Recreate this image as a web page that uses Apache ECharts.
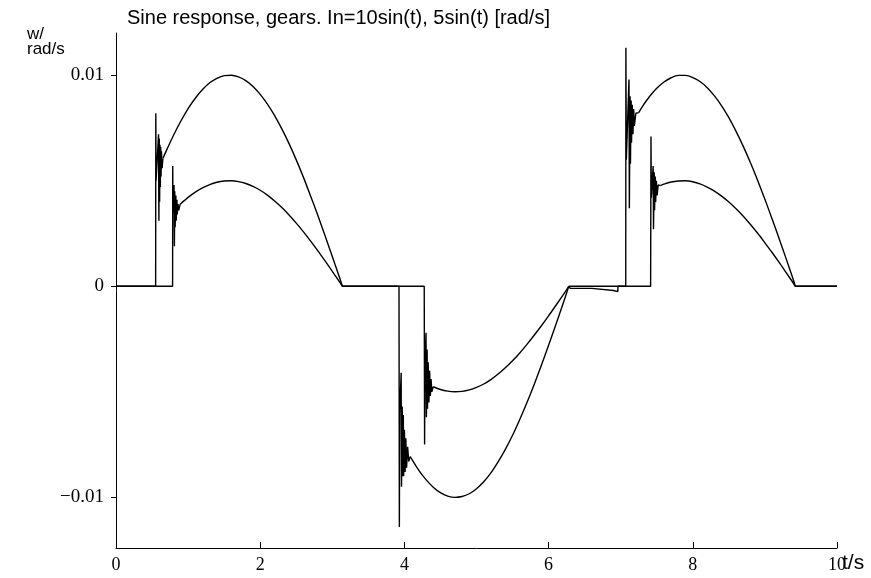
<!DOCTYPE html>
<html>
<head>
<meta charset="utf-8">
<script src="https://cdn.jsdelivr.net/npm/echarts@6/dist/echarts.min.js"></script>
<style>html,body{margin:0;padding:0;background:#fff}#c{width:871px;height:578px}</style>
</head>
<body>
<div id="c"></div>
<script>
// ---- Data (t in s, w in rad/s) ----
const titleText = 'Sine response, gears. In=10sin(t), 5sin(t) [rad/s]';
const yUnitText = 'w/\nrad/s';
const xUnitText = 't/s';
const xTickValues = [0, 2, 4, 6, 8, 10];
const yTickValues = [0.01, 0, -0.01];
const yTickLabels = ['0.01', '0', '\u22120.01'];

// Series A (In = 10 sin(t))
const aRest1 = [[0, 0], [0.55, 0]];
const aOsc1 = [[0.552, 0.0082], [0.556, 0.0050], [0.59, 0.0072], [0.595, 0.0031], [0.60, 0.0070], [0.605, 0.0040], [0.61, 0.0067], [0.615, 0.0047], [0.62, 0.0066], [0.625, 0.0052], [0.63, 0.0064], [0.64, 0.0056], [0.65, 0.00605]];
const aArc1 = [[0.65, 0.00605], [0.7, 0.00644], [0.8, 0.00717], [0.9, 0.00783], [1.0, 0.00842], [1.1, 0.00891], [1.2, 0.00932], [1.3, 0.00964], [1.4, 0.00985], [1.5, 0.00998], [1.6, 0.01000], [1.7, 0.00992], [1.8, 0.00974], [1.9, 0.00946], [2.0, 0.00909], [2.1, 0.00863], [2.2, 0.00809], [2.3, 0.00746], [2.4, 0.00676], [2.5, 0.00599], [2.6, 0.00516], [2.7, 0.00427], [2.8, 0.00335], [2.9, 0.00239], [3.0, 0.00141], [3.1, 0.00042], [3.14, 0]];
const aRest2 = [[3.14, 0], [3.925, 0]];
const aOsc2 = [[3.93, -0.0114], [3.935, -0.0060], [3.955, -0.0041], [3.96, -0.0095], [3.97, -0.0057], [3.975, -0.0090], [3.985, -0.0061], [3.99, -0.0090], [4.0, -0.0068], [4.01, -0.0088], [4.02, -0.0072], [4.03, -0.0086], [4.045, -0.0076], [4.06, -0.0083], [4.08, -0.00807]];
const aArc2 = [[4.08, -0.00807], [4.1, -0.00818], [4.2, -0.00872], [4.3, -0.00916], [4.4, -0.00952], [4.5, -0.00978], [4.6, -0.00994], [4.7, -0.01000], [4.8, -0.00996], [4.9, -0.00983], [5.0, -0.00959], [5.1, -0.00926], [5.2, -0.00884], [5.3, -0.00832], [5.4, -0.00773], [5.5, -0.00706], [5.6, -0.00631], [5.7, -0.00551], [5.8, -0.00465], [5.9, -0.00374], [6.0, -0.00279], [6.1, -0.00182], [6.2, -0.00083], [6.28, 0]];
const aRest3 = [[6.28, 0], [6.3, -0.0001], [6.6, -0.0001], [6.9, -0.0002], [6.96, -0.00025], [6.962, 0], [7.07, 0]];
const aOsc3 = [[7.072, 0.0113], [7.078, 0.0060], [7.115, 0.0098], [7.12, 0.0037], [7.13, 0.0090], [7.135, 0.0058], [7.145, 0.0088], [7.15, 0.0068], [7.16, 0.0086], [7.17, 0.0072], [7.18, 0.0084], [7.19, 0.0076], [7.21, 0.0082], [7.25, 0.00823]];
const aArc3 = [[7.25, 0.00823], [7.3, 0.00851], [7.4, 0.00899], [7.5, 0.00938], [7.6, 0.00968], [7.7, 0.00988], [7.8, 0.00999], [7.9, 0.00999], [8.0, 0.00989], [8.1, 0.00970], [8.2, 0.00941], [8.3, 0.00902], [8.4, 0.00855], [8.5, 0.00799], [8.6, 0.00734], [8.7, 0.00663], [8.8, 0.00585], [8.9, 0.00501], [9.0, 0.00412], [9.1, 0.00319], [9.2, 0.00223], [9.3, 0.00125], [9.4, 0.00025], [9.42, 0]];
const aRest4 = [[9.42, 0], [10, 0]];

// Series B (In = 5 sin(t))
const bRest1 = [[0, 0], [0.785, 0]];
const bOsc1 = [[0.787, 0.0057], [0.79, 0.0035], [0.805, 0.0048], [0.81, 0.0019], [0.815, 0.0045], [0.82, 0.0028], [0.83, 0.0043], [0.835, 0.0031], [0.845, 0.0041], [0.85, 0.0034], [0.86, 0.0039], [0.87, 0.0036], [0.89, 0.00389]];
const bArc1 = [[0.89, 0.00389], [1.0, 0.00421], [1.1, 0.00446], [1.2, 0.00466], [1.3, 0.00482], [1.4, 0.00493], [1.5, 0.00499], [1.6, 0.00500], [1.7, 0.00496], [1.8, 0.00487], [1.9, 0.00473], [2.0, 0.00455], [2.1, 0.00432], [2.2, 0.00404], [2.3, 0.00373], [2.4, 0.00338], [2.5, 0.00299], [2.6, 0.00258], [2.7, 0.00214], [2.8, 0.00168], [2.9, 0.00120], [3.0, 0.00071], [3.1, 0.00021], [3.14, 0]];
const bRest2 = [[3.14, 0], [4.275, 0]];
const bOsc2 = [[4.28, -0.0075], [4.285, -0.0040], [4.30, -0.0022], [4.305, -0.0062], [4.315, -0.0030], [4.32, -0.0058], [4.33, -0.0036], [4.34, -0.0055], [4.35, -0.0040], [4.36, -0.0052], [4.37, -0.0044], [4.38, -0.0050], [4.4, -0.00476]];
const bArc2 = [[4.4, -0.00476], [4.5, -0.00489], [4.6, -0.00497], [4.7, -0.00500], [4.8, -0.00498], [4.9, -0.00491], [5.0, -0.00479], [5.1, -0.00463], [5.2, -0.00442], [5.3, -0.00416], [5.4, -0.00386], [5.5, -0.00353], [5.6, -0.00316], [5.7, -0.00275], [5.8, -0.00232], [5.9, -0.00187], [6.0, -0.00140], [6.1, -0.00091], [6.2, -0.00042], [6.28, 0]];
const bRest3 = [[6.28, 0], [7.415, 0]];
const bOsc3 = [[7.42, 0.0071], [7.425, 0.0042], [7.45, 0.0057], [7.455, 0.0027], [7.465, 0.0054], [7.47, 0.0036], [7.48, 0.0052], [7.485, 0.0040], [7.495, 0.0050], [7.505, 0.0043], [7.52, 0.0048], [7.55, 0.00477]];
const bArc3 = [[7.55, 0.00477], [7.6, 0.00484], [7.7, 0.00494], [7.8, 0.00499], [7.9, 0.00500], [8.0, 0.00495], [8.1, 0.00485], [8.2, 0.00470], [8.3, 0.00451], [8.4, 0.00427], [8.5, 0.00399], [8.6, 0.00367], [8.7, 0.00332], [8.8, 0.00293], [8.9, 0.00251], [9.0, 0.00206], [9.1, 0.00160], [9.2, 0.00112], [9.3, 0.00062], [9.4, 0.00012], [9.42, 0]];
const bRest4 = [[9.42, 0], [10, 0]];

// Step / oscillation pieces drawn straight, smooth arcs drawn smoothed
const gap = [[null, null]];
const roughA = [].concat(aRest1, aOsc1, gap, aRest2, aOsc2, gap, aRest3, aOsc3, gap, aRest4);
const roughB = [].concat(bRest1, bOsc1, gap, bRest2, bOsc2, gap, bRest3, bOsc3, gap, bRest4);
const arcs = [aArc1, aArc2, aArc3, bArc1, bArc2, bArc3];

const chart = echarts.init(document.getElementById('c'), null, {renderer: 'canvas'});
const serif = '"Liberation Serif", "Times New Roman", serif';
const sans = '"Liberation Sans", Arial, sans-serif';
const lineStyle = {color: '#000', width: 1.4};

const series = [
  {name: 'In=10sin(t)', type: 'line', data: roughA, connectNulls: false, showSymbol: false, lineStyle: lineStyle},
  {name: 'In=5sin(t)', type: 'line', data: roughB, connectNulls: false, showSymbol: false, lineStyle: lineStyle}
].concat(arcs.map((d, i) => ({
  name: i < 3 ? 'In=10sin(t)' : 'In=5sin(t)', type: 'line', data: d, showSymbol: false,
  smooth: 0.3, lineStyle: lineStyle
})));

chart.setOption({
  animation: false,
  backgroundColor: '#fff',
  title: {
    text: titleText,
    left: 122, top: 3,
    textStyle: {fontFamily: sans, fontSize: 20, fontWeight: 'normal', color: '#000'}
  },
  graphic: [{
    type: 'text', left: 27, top: 26,
    style: {text: yUnitText, font: '17px ' + sans, lineHeight: 15, fill: '#000'}
  }, {
    type: 'text', left: 842, top: 553,
    style: {text: xUnitText, font: '21px ' + sans, fill: '#000'}
  }],
  grid: {left: 116, right: 34, top: 33, bottom: 30, containLabel: false, outerBoundsMode: 'none'},
  xAxis: {
    type: 'value', min: 0, max: 10, interval: 2,
    axisLine: {onZero: false, lineStyle: {color: '#000', width: 1}},
    axisTick: {inside: true, length: 6, lineStyle: {color: '#000'}},
    axisLabel: {color: '#000', fontFamily: serif, fontSize: 18, margin: 8,
      formatter: v => xTickValues.indexOf(v) >= 0 ? String(v) : ''},
    splitLine: {show: false}
  },
  yAxis: {
    type: 'value', min: -0.0124, max: 0.012,
    axisLine: {onZero: false, lineStyle: {color: '#000', width: 1}},
    axisTick: {inside: false, length: 5, customValues: yTickValues, lineStyle: {color: '#000'}},
    axisLabel: {color: '#000', fontFamily: serif, fontSize: 19, margin: 12, customValues: yTickValues,
      formatter: v => { const i = yTickValues.findIndex(t => Math.abs(t - v) < 1e-9); return i >= 0 ? yTickLabels[i] : ''; }},
    splitLine: {show: false}
  },
  series: series
});
</script>
</body>
</html>
